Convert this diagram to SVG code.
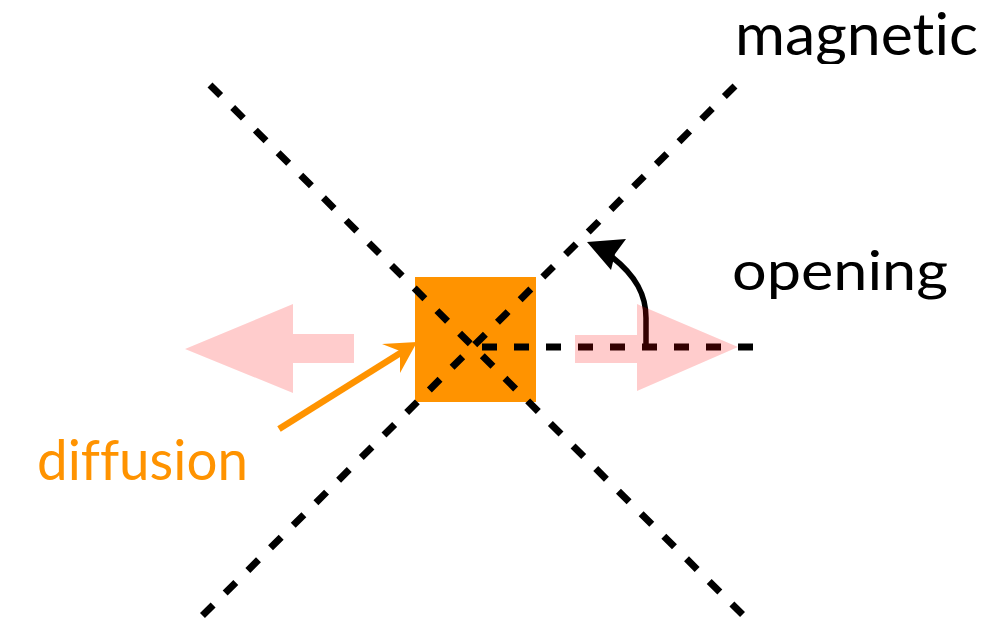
<svg xmlns="http://www.w3.org/2000/svg" width="989" height="619" viewBox="0 0 989 619">
  <style>
    .lbl { font-family: "Lato", "Open Sans", "DejaVu Sans", sans-serif; font-variant-ligatures: none; }
    .dash { fill: none; stroke: #000; stroke-width: 7; stroke-dasharray: 15 17; }
    .flow { fill: #ff0000; fill-opacity: 0.2; }
  </style>
  <defs>
    <clipPath id="clipTop"><rect x="0" y="0" width="989" height="64"/></clipPath>
    <clipPath id="clipMid"><rect x="0" y="0" width="989" height="302"/></clipPath>
  </defs>

  <rect width="989" height="619" fill="#fff"/>

  <!-- reconnection region -->
  <g id="region">
    <rect x="415" y="277" width="121" height="125" fill="#ff9300"/>
  </g>

  <!-- diffusion label and pointer -->
  <g id="diffusion">
    <line x1="279" y1="429" x2="402" y2="352" stroke="#ff9300" stroke-width="6.5"/>
    <polygon points="417,342 382,344 400,351 400,373" fill="#ff9300"/>
    <text class="lbl" x="37" y="480" font-size="56" fill="#ff9300" textLength="211" lengthAdjust="spacingAndGlyphs">diffusion</text>
  </g>

  <!-- magnetic field lines -->
  <g id="connectors">
    <line class="dash" x1="210" y1="85" x2="744" y2="616"/>
    <line class="dash" x1="735" y1="86" x2="202" y2="616"/>
    <line class="dash" x1="482" y1="347" x2="756" y2="347"/>
  </g>

  <!-- opening angle -->
  <g id="opening-arrow">
    <path d="M646,349 L646,318 C646,295 636,276 612,257" fill="none" stroke="#000" stroke-width="5.5"/>
    <polygon points="587,242 626,239 615,254 611,270" fill="#000"/>
  </g>

  <!-- outflow arrows -->
  <g id="outflow-left">
    <polygon class="flow" points="185,349 293,304 293,334 354,334 354,363 293,363 293,393"/>
  </g>
  <g id="outflow-right">
    <polygon class="flow" points="738,347 637,304 637,335 575,335 575,363 637,363 637,391"/>
  </g>

  <g id="labels">
    <text class="lbl" x="735" y="55" font-size="58" fill="#000" textLength="243" lengthAdjust="spacingAndGlyphs" clip-path="url(#clipTop)">magnetic</text>
    <text class="lbl" x="732" y="290" font-size="55" fill="#000" textLength="216" lengthAdjust="spacingAndGlyphs" clip-path="url(#clipMid)">opening</text>
  </g>
</svg>
